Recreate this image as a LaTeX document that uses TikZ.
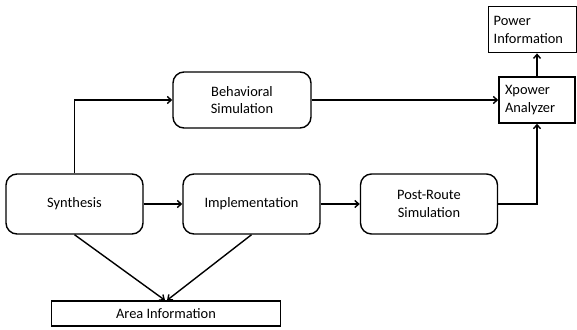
\documentclass[tikz,border=0pt]{standalone}
\usepackage{fontspec}
\setmainfont{Carlito}
\usetikzlibrary{arrows.meta}
\begin{document}
\begin{tikzpicture}[x=1pt,y=-1pt,
  every node/.style={font=\fontsize{14.4}{17.5}\selectfont},
  stage/.style={draw,line width=1.4pt,rounded corners=11pt,inner sep=0pt,align=center},
  result/.style={draw,line width=1.4pt,inner sep=0pt,align=left},
  flow/.style={line width=1.4pt,-{Straight Barb[length=4pt,width=7pt]}}]
  \useasboundingbox (0,0) rectangle (577,329);
  % process stages
  \node[stage,minimum width=137pt,minimum height=60pt] (syn) at (74.5,204) {Synthesis};
  \node[stage,minimum width=137pt,minimum height=60pt] (impl) at (251.5,204) {Implementation};
  \node[stage,minimum width=137pt,minimum height=60pt] (post) at (429,204) {Post-Route\\Simulation};
  \node[stage,minimum width=138pt,minimum height=56pt] (beh) at (242,100) {Behavioral\\Simulation};
  % analyzer and reports
  \node[result,minimum width=76pt,minimum height=46pt,text width=64pt] (xpa) at (537,100) {Xpower\\Analyzer};
  \node[result,minimum width=88pt,minimum height=46pt,text width=78pt,anchor=north west] (pwr) at (488,6) {Power\\Information};
  \node[result,minimum width=229pt,minimum height=25pt,align=center] (area) at (166,313.5) {Area Information};
  % connectors
  \coordinate (jl) at (syn.north |- beh.west);
  \draw[flow] (syn.north) -- (jl) -- (beh.west);
  \draw[flow] (beh.east) -- (xpa.west);
  \draw[flow] (syn.east) -- (impl.west);
  \draw[flow] (impl.east) -- (post.west);
  \coordinate (jr) at (xpa.south |- post.east);
  \draw[flow] (post.east) -- (jr) -- (xpa.south);
  \draw[flow] (xpa.north) -- (xpa.north |- pwr.south);
  \draw[flow] (syn.south) -- ([xshift=-1pt]area.north);
  \draw[flow] (impl.south) -- ([xshift=1pt]area.north);
\end{tikzpicture}
\end{document}
